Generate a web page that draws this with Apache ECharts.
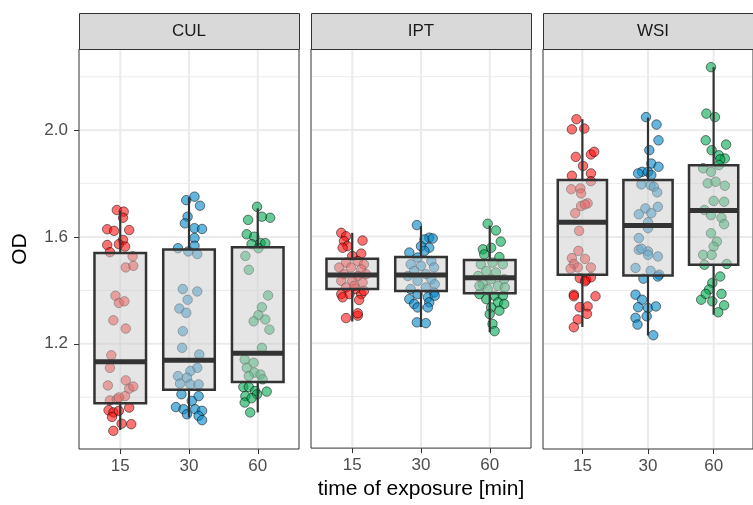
<!DOCTYPE html>
<html><head><meta charset="utf-8">
<script src="https://cdn.jsdelivr.net/npm/echarts@6/dist/echarts.min.js"></script>
<style>html,body{margin:0;padding:0;background:#fff}#c{width:753px;height:505px}</style>
</head><body><div id="c"></div>
<script>
// ---- data ----
const panels = ['CUL', 'IPT', 'WSI'];
const times = ['15', '30', '60'];
const yTicks = [1.2, 1.6, 2.0];
const yMinor = [1.0, 1.4, 1.8, 2.2];
const yRange = [0.806, 2.304];

// box statistics: [lower whisker, Q1, median, Q3, upper whisker] for 15, 30, 60
const CUL_box = [[0.877, 0.977, 1.133, 1.540, 1.699], [0.924, 1.028, 1.138, 1.553, 1.749], [0.943, 1.057, 1.165, 1.562, 1.707]];
const IPT_box = [[1.281, 1.403, 1.456, 1.517, 1.614], [1.260, 1.396, 1.456, 1.523, 1.639], [1.241, 1.387, 1.445, 1.512, 1.641]];
const WSI_box = [[1.263, 1.459, 1.655, 1.813, 2.041], [1.231, 1.456, 1.643, 1.813, 2.047], [1.309, 1.496, 1.699, 1.869, 2.236]];

// observations (OD) and their horizontal jitter (category units)
const CUL_15_od = [1.701,1.695,1.672,1.629,1.623,1.626,1.589,1.570,1.573,1.564,1.543,1.527,1.486,1.492,1.380,1.353,1.359,1.288,1.257,1.157,1.110,1.044,1.063,1.032,1.004,0.988,0.992,0.951,0.943,0.926,0.949,0.961,0.901,0.899,0.874,1.040,0.999];
const CUL_15_jit = [-0.05,0.05,0.04,-0.19,-0.09,0.13,0.04,-0.19,-0.02,0.07,-0.15,0.18,0.08,0.19,-0.07,-0.02,0.06,-0.10,0.08,-0.13,-0.15,-0.18,0.08,0.13,0.07,-0.15,-0.05,-0.17,-0.10,-0.12,-0.02,0.13,0.02,0.16,-0.10,0.19,-0.02];
const CUL_30_od = [1.738,1.751,1.717,1.676,1.651,1.633,1.630,1.596,1.567,1.558,1.546,1.536,1.405,1.396,1.365,1.332,1.316,1.247,1.185,1.160,1.110,1.098,1.079,1.073,1.051,1.048,1.048,1.011,1.004,0.986,0.963,0.955,0.955,0.949,0.936,0.930,0.914];
const CUL_30_jit = [-0.04,0.08,0.16,-0.02,-0.06,0.08,0.19,0.08,0.08,-0.16,-0.01,0.12,-0.09,0.12,-0.02,-0.14,-0.04,-0.09,-0.10,0.15,0.12,0.02,-0.16,-0.03,-0.13,0.02,0.14,-0.11,0.14,0.04,-0.19,-0.08,0.09,0.19,-0.03,0.14,0.19];
const CUL_60_od = [1.713,1.672,1.664,1.676,1.610,1.601,1.573,1.577,1.577,1.558,1.529,1.477,1.381,1.337,1.307,1.291,1.284,1.253,1.185,1.141,1.129,1.110,1.092,1.085,1.079,1.067,1.038,1.038,1.023,1.021,1.004,1.011,0.980,0.996,0.943];
const CUL_60_jit = [-0.01,0.18,-0.14,0.06,-0.16,-0.05,-0.09,0.04,0.11,0.01,-0.18,-0.13,0.15,0.06,0.01,0.11,-0.06,0.17,0.06,-0.19,-0.06,-0.16,-0.05,0.04,-0.13,0.07,-0.21,-0.13,-0.04,0.13,-0.18,-0.01,-0.19,-0.09,-0.11];

const IPT_15_od = [1.614,1.601,1.583,1.585,1.564,1.558,1.536,1.527,1.508,1.502,1.496,1.484,1.484,1.477,1.459,1.452,1.459,1.434,1.434,1.428,1.409,1.403,1.384,1.384,1.384,1.372,1.362,1.294,1.303,1.312,1.415,1.396];
const IPT_15_jit = [-0.16,-0.09,-0.12,0.15,-0.07,-0.14,0.13,0.00,0.08,-0.09,0.17,-0.19,-0.02,0.13,-0.12,0.08,0.20,-0.16,0.00,0.15,-0.09,0.05,-0.16,-0.04,0.13,-0.14,0.10,-0.09,0.08,0.08,0.03,0.17];
const IPT_30_od = [1.643,1.596,1.589,1.593,1.564,1.558,1.540,1.546,1.521,1.508,1.496,1.490,1.484,1.471,1.459,1.452,1.440,1.434,1.421,1.403,1.409,1.390,1.384,1.365,1.372,1.347,1.353,1.334,1.334,1.278,1.275,1.378];
const IPT_30_jit = [-0.06,0.12,0.05,0.17,0.00,0.12,-0.17,0.05,-0.05,0.15,-0.15,0.00,0.19,-0.10,0.07,-0.19,0.15,-0.05,0.20,-0.15,0.07,0.19,-0.05,-0.17,0.10,-0.10,0.12,-0.05,0.10,-0.06,0.07,0.20];
const IPT_60_od = [1.648,1.623,1.581,1.552,1.558,1.533,1.523,1.502,1.496,1.496,1.471,1.465,1.452,1.440,1.440,1.421,1.415,1.403,1.384,1.378,1.378,1.365,1.353,1.347,1.334,1.322,1.309,1.272,1.245,1.409,1.415];
const IPT_60_jit = [-0.03,0.09,0.16,-0.10,0.02,-0.08,0.14,0.04,-0.13,0.19,-0.05,0.09,-0.17,0.02,0.21,-0.10,0.12,-0.03,-0.15,0.07,0.19,-0.05,0.12,0.21,0.02,0.14,0.00,0.04,0.07,0.22,-0.15];

const WSI_15_od = [2.041,2.003,2.006,1.900,1.909,1.919,1.866,1.829,1.838,1.809,1.779,1.782,1.763,1.726,1.716,1.689,1.722,1.623,1.548,1.521,1.518,1.499,1.486,1.481,1.486,1.446,1.440,1.449,1.384,1.378,1.378,1.337,1.340,1.312,1.291,1.262,1.434];
const WSI_15_jit = [-0.09,-0.16,0.03,-0.10,0.13,0.18,0.01,-0.16,0.13,0.13,-0.17,-0.03,-0.02,0.08,-0.02,-0.11,0.04,-0.05,-0.06,-0.16,0.04,-0.13,-0.07,-0.18,0.13,-0.04,0.06,0.13,-0.13,-0.13,0.20,-0.04,0.08,0.07,-0.07,-0.13,0.04];
const WSI_30_od = [2.049,2.021,1.962,1.925,1.875,1.863,1.844,1.838,1.844,1.832,1.797,1.794,1.788,1.767,1.707,1.685,1.689,1.713,1.655,1.633,1.596,1.552,1.546,1.556,1.533,1.527,1.484,1.473,1.459,1.444,1.452,1.384,1.365,1.337,1.334,1.340,1.297,1.272,1.303,1.232];
const WSI_30_jit = [-0.03,0.13,0.16,0.02,0.05,0.16,-0.09,-0.15,0.00,0.05,-0.10,0.04,0.09,0.14,-0.04,-0.14,0.05,0.15,0.00,0.00,-0.14,-0.14,0.00,-0.10,0.00,0.15,-0.19,0.04,0.17,-0.07,0.15,-0.19,-0.09,-0.15,0.00,0.12,-0.19,-0.16,-0.02,0.08];
const WSI_60_od = [2.236,2.062,2.049,1.962,1.946,1.925,1.906,1.894,1.891,1.857,1.844,1.869,1.801,1.807,1.792,1.735,1.732,1.701,1.682,1.672,1.648,1.614,1.583,1.564,1.533,1.533,1.496,1.499,1.452,1.428,1.403,1.387,1.365,1.387,1.359,1.344,1.318];
const WSI_60_jit = [-0.04,-0.11,0.02,-0.12,0.19,-0.03,0.08,0.17,0.10,-0.16,-0.04,0.08,-0.09,0.03,0.17,0.00,0.16,-0.14,-0.04,0.12,0.16,-0.04,0.05,0.00,-0.16,-0.03,-0.14,0.20,0.10,-0.02,-0.07,0.12,-0.19,-0.12,-0.02,0.16,0.07];

const panelData = [
  { box: CUL_box, od: [CUL_15_od, CUL_30_od, CUL_60_od], jit: [CUL_15_jit, CUL_30_jit, CUL_60_jit] },
  { box: IPT_box, od: [IPT_15_od, IPT_30_od, IPT_60_od], jit: [IPT_15_jit, IPT_30_jit, IPT_60_jit] },
  { box: WSI_box, od: [WSI_15_od, WSI_30_od, WSI_60_od], jit: [WSI_15_jit, WSI_30_jit, WSI_60_jit] }
];

// ---- style ----
const FONT = "'Liberation Sans', Arial, sans-serif";
const pointColors = ['rgba(255,10,10,0.72)', 'rgba(8,136,200,0.78)', 'rgba(0,168,80,0.75)'];
const EDGE = '#333333';
const GRID_LEFT = [79, 311, 543], GRID_TOP = 49, GRID_W = 220, GRID_H = 400;
const BOX_W = 0.75;

const chart = echarts.init(document.getElementById('c'), null, { renderer: 'canvas' });

function renderGridLines(params, api) {
  const cs = params.coordSys;
  const kind = api.value(0), v = api.value(1), major = api.value(2);
  const w = major ? 2 : 1;
  if (kind === 0) {
    const y = api.coord([1, v])[1];
    return { type: 'line', shape: { x1: cs.x + 1, y1: y, x2: cs.x + cs.width - 1, y2: y },
      style: { stroke: '#ebebeb', lineWidth: w } };
  }
  const x = api.coord([v, 1])[0];
  return { type: 'line', shape: { x1: x, y1: cs.y + 1, x2: x, y2: cs.y + cs.height - 1 },
    style: { stroke: '#ebebeb', lineWidth: w } };
}

function renderBox(params, api) {
  const x = api.value(0);
  const mn = api.value(1), q1 = api.value(2), md = api.value(3), q3 = api.value(4), mx = api.value(5);
  const hw = BOX_W / 2;
  const tl = api.coord([x - hw, q3]), br = api.coord([x + hw, q1]);
  const pMax = api.coord([x, mx]), pQ3 = api.coord([x, q3]), pQ1 = api.coord([x, q1]), pMin = api.coord([x, mn]);
  const mL = api.coord([x - hw, md]), mR = api.coord([x + hw, md]);
  return { type: 'group', children: [
    { type: 'line', shape: { x1: pMax[0], y1: pMax[1], x2: pQ3[0], y2: pQ3[1] }, style: { stroke: EDGE, lineWidth: 2.2 } },
    { type: 'line', shape: { x1: pQ1[0], y1: pQ1[1], x2: pMin[0], y2: pMin[1] }, style: { stroke: EDGE, lineWidth: 2.2 } },
    { type: 'rect', shape: { x: tl[0], y: tl[1], width: br[0] - tl[0], height: br[1] - tl[1] },
      style: { fill: 'rgba(204,204,204,0.5)', stroke: EDGE, lineWidth: 2.5 } },
    { type: 'line', shape: { x1: mL[0], y1: mL[1], x2: mR[0], y2: mR[1] }, style: { stroke: EDGE, lineWidth: 5 } }
  ]};
}

const grids = [], xAxes = [], yAxes = [], series = [], graphics = [];
const gridLineData = [];
yTicks.forEach(v => gridLineData.push([0, v, 1]));
yMinor.forEach(v => gridLineData.push([0, v, 0]));
times.forEach((t, i) => gridLineData.push([1, i + 1, 1]));

panels.forEach((name, p) => {
  grids.push({ left: GRID_LEFT[p], top: GRID_TOP, width: GRID_W, height: GRID_H,
    show: true, borderColor: EDGE, borderWidth: 1, backgroundColor: 'transparent', containLabel: false });
  const xa = {
    type: 'value', gridIndex: p, min: 0.4, max: 3.6,
    axisLine: { show: false }, splitLine: { show: false },
    axisTick: { show: true, customValues: [1, 2, 3], length: 5, lineStyle: { color: EDGE, width: 1 } },
    axisLabel: { show: true, customValues: [1, 2, 3], formatter: v => times[Math.round(v) - 1],
      color: '#4d4d4d', fontSize: 17, fontFamily: FONT, margin: 9 }
  };
  if (p === 1) {
    xa.name = 'time of exposure [min]';
    xa.nameLocation = 'middle';
    xa.nameGap = 28;
    xa.nameTextStyle = { fontSize: 21, color: '#000', fontFamily: FONT };
  }
  xAxes.push(xa);
  const ya = {
    type: 'value', gridIndex: p, min: yRange[0], max: yRange[1],
    axisLine: { show: false }, splitLine: { show: false },
    axisTick: { show: p === 0, customValues: yTicks, length: 5, lineStyle: { color: EDGE, width: 1 } },
    axisLabel: { show: p === 0, customValues: yTicks, formatter: v => v.toFixed(1),
      color: '#4d4d4d', fontSize: 17, fontFamily: FONT, margin: 11 }
  };
  if (p === 0) {
    ya.name = 'OD';
    ya.nameLocation = 'middle';
    ya.nameGap = 48;
    ya.nameRotate = 90;
    ya.nameTextStyle = { fontSize: 21, color: '#000', fontFamily: FONT };
  }
  yAxes.push(ya);

  series.push({ type: 'custom', xAxisIndex: p, yAxisIndex: p, z: 1, silent: true,
    renderItem: renderGridLines, data: gridLineData, encode: { x: 0, y: 1 } });

  const pd = panelData[p];
  times.forEach((t, i) => {
    series.push({
      type: 'scatter', xAxisIndex: p, yAxisIndex: p, z: 2, silent: true,
      symbol: 'circle', symbolSize: 9.5,
      data: pd.od[i].map((v, k) => [i + 1 + pd.jit[i][k], v]),
      itemStyle: { color: pointColors[i], borderColor: 'rgba(0,0,0,0.7)', borderWidth: 0.9 }
    });
  });

  series.push({ type: 'custom', xAxisIndex: p, yAxisIndex: p, z: 3, silent: true,
    renderItem: renderBox, data: pd.box.map((b, i) => [i + 1].concat(b)),
    encode: { x: 0, y: [1, 2, 3, 4, 5] } });

  graphics.push({ type: 'rect', left: GRID_LEFT[p], top: 13, z: 10,
    shape: { x: 0, y: 0, width: GRID_W, height: 36 },
    style: { fill: '#d9d9d9', stroke: EDGE, lineWidth: 1 } });
  graphics.push({ type: 'text', z: 11, x: GRID_LEFT[p] + GRID_W / 2, y: 31,
    style: { text: name, fill: '#1a1a1a', fontSize: 17, fontFamily: FONT, align: 'center', verticalAlign: 'middle' } });
});

chart.setOption({
  animation: false,
  backgroundColor: '#ffffff',
  textStyle: { fontFamily: FONT },
  grid: grids, xAxis: xAxes, yAxis: yAxes, series: series, graphic: graphics
});
</script></body></html>
